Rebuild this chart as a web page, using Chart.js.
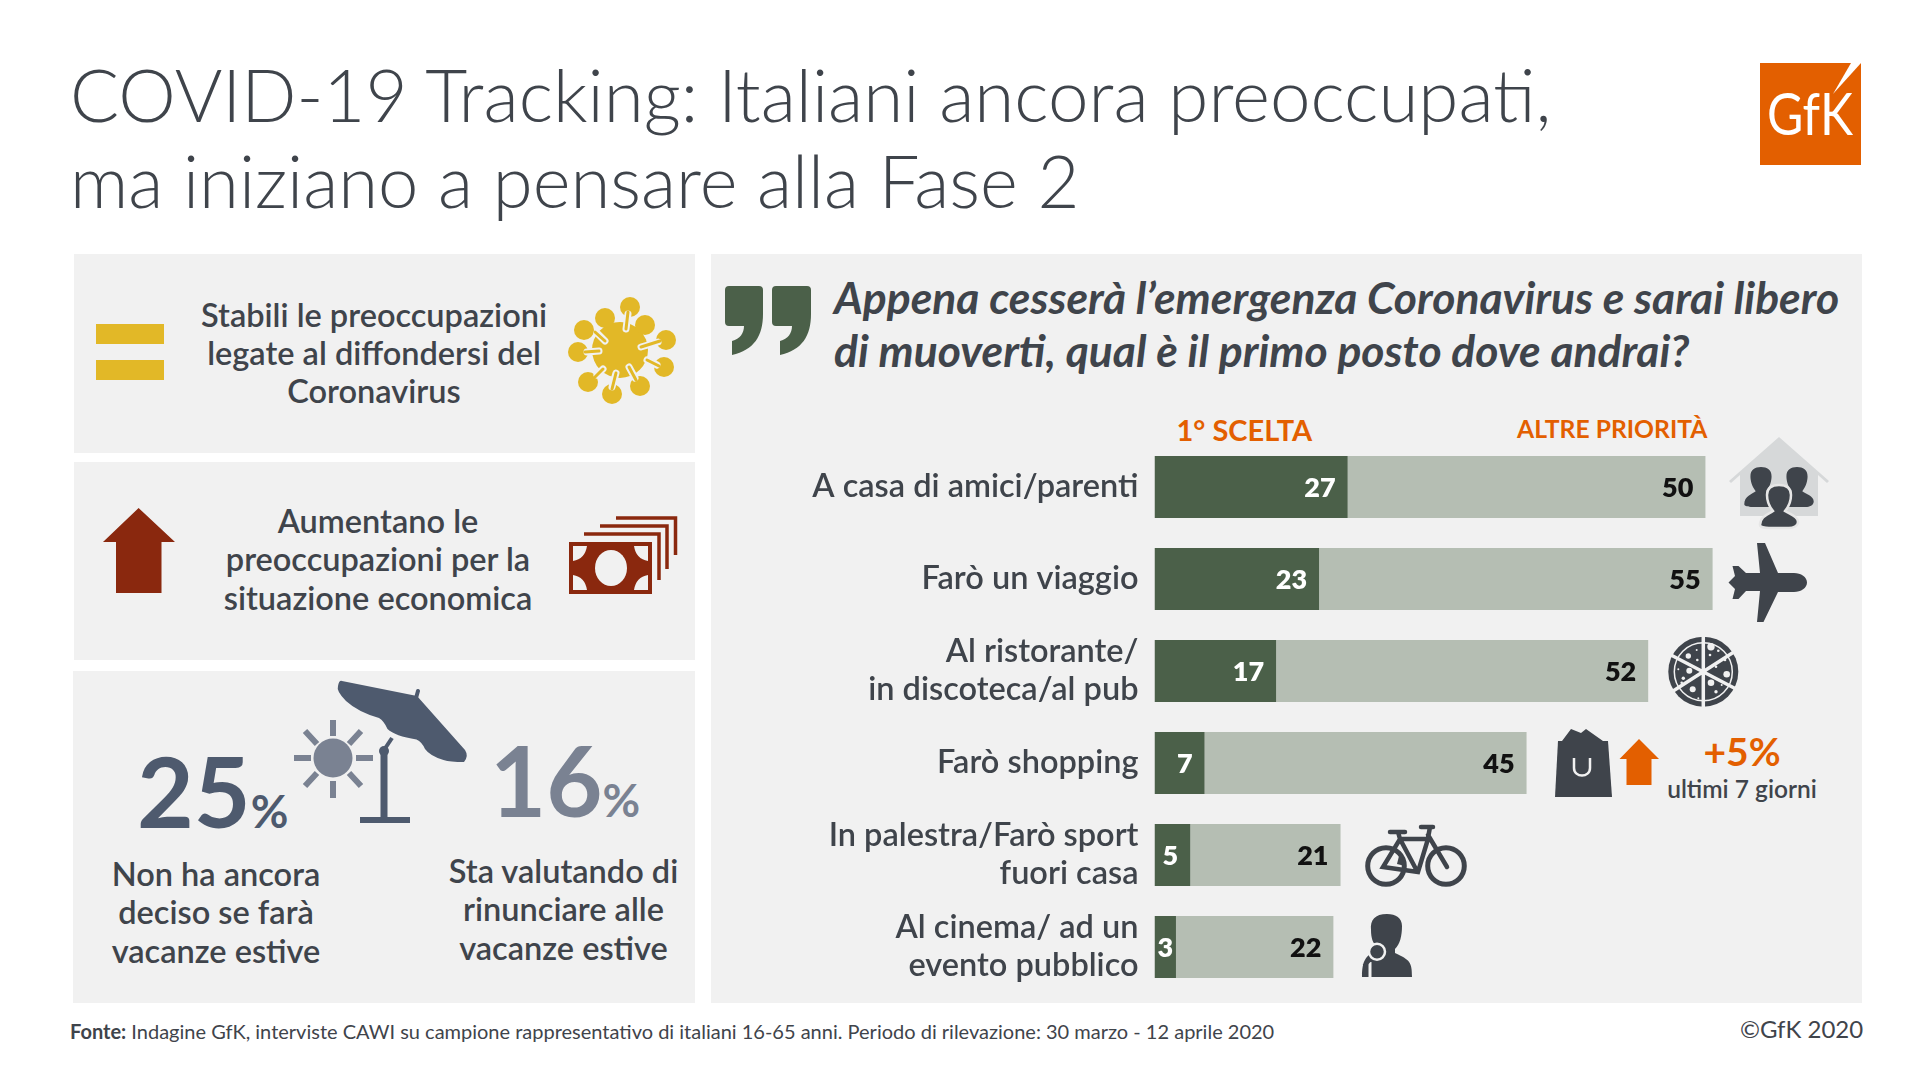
<!DOCTYPE html>
<html lang="it">
<head>
<meta charset="utf-8">
<title>COVID-19 Tracking</title>
<script src="https://cdn.jsdelivr.net/npm/chart.js@4/dist/chart.umd.min.js"></script>
<style>
  html, body { margin: 0; background: #fff; }
  #page { position: relative; width: 1920px; height: 1080px; overflow: hidden; font-family: Lato, sans-serif; color: #3f444b; }
  .panel { position: absolute; background: #f1f1f1; }
  .t { position: absolute; white-space: nowrap; line-height: 1; }
  .c { transform: translate(-50%, -50%); text-align: center; }
  .l { transform: translateY(-50%); }
  .body { font-size: 32.5px; font-weight: 600; line-height: 38.3px; }
  svg, canvas { position: absolute; left: 0; top: 0; }
</style>
</head>
<body>
<div id="page">
  <div class="panel" style="left:74px;top:254px;width:621px;height:199px"></div>
  <div class="panel" style="left:74px;top:462px;width:621px;height:198px"></div>
  <div class="panel" style="left:73px;top:671px;width:622px;height:332px"></div>
  <div class="panel" style="left:711px;top:254px;width:1151px;height:749px"></div>

  <div class="t l" style="left:70px;top:94px;font-size:72.7px;font-weight:300">COVID-19 Tracking: Italiani ancora preoccupati,</div>
  <div class="t l" style="left:70px;top:180px;font-size:72.4px;font-weight:300">ma iniziano a pensare alla Fase 2</div>

  <div class="t c body" style="left:374px;top:352.5px">Stabili le preoccupazioni<br>legate al diffondersi del<br>Coronavirus</div>
  <div class="t c body" style="left:378px;top:559px">Aumentano le<br>preoccupazioni per la<br>situazione economica</div>
  <div class="t c body" style="left:216px;top:912px">Non ha ancora<br>deciso se farà<br>vacanze estive</div>
  <div class="t c body" style="left:563.5px;top:909px">Sta valutando di<br>rinunciare alle<br>vacanze estive</div>

  <div class="t" style="left:137px;top:740.5px;font-size:98px;font-weight:700;color:#4e5a6e">25<span style="font-size:46px">%</span></div>
  <div class="t" style="left:490px;top:730.5px;font-size:97px;font-weight:700;color:#7a8292">16<span style="font-size:46px">%</span></div>

  <div class="t l" style="left:834px;top:296.5px;font-size:44.4px;font-weight:700;font-style:italic">Appena cesserà l’emergenza Coronavirus e sarai libero</div>
  <div class="t l" style="left:834px;top:349.5px;font-size:44.4px;font-weight:700;font-style:italic">di muoverti, qual è il primo posto dove andrai?</div>
  <div class="t l" style="left:1176.5px;top:428.5px;font-size:29px;font-weight:700;color:#e35f00">1° SCELTA</div>
  <div class="t l" style="left:1517px;top:428.5px;font-size:24.7px;font-weight:700;color:#e35f00">ALTRE PRIORITÀ</div>
  <div class="t c" style="left:1742px;top:750.5px;font-size:39px;font-weight:700;color:#e35f00">+5%</div>
  <div class="t c" style="left:1742px;top:789px;font-size:24.5px;font-weight:600">ultimi 7 giorni</div>

  <div class="t l" style="left:70px;top:1030.5px;font-size:20px"><b>Fonte:</b> Indagine GfK, interviste CAWI su campione rappresentativo di italiani 16-65 anni. Periodo di rilevazione: 30 marzo - 12 aprile 2020</div>
  <div class="t l" style="left:1740px;top:1029px;font-size:24px">©GfK 2020</div>

  <canvas id="placesChart" width="1161" height="552" style="left:709px;top:441px"></canvas>

  <svg width="1920" height="1080" viewBox="0 0 1920 1080">
    <defs>
      <path id="bust" d="M-19 40C-19 31-10 29-6 26C-11 20-12 14-12 10C-12 3-7 0 0 0C7 0 12 3 12 10C12 14 11 20 6 26C10 29 19 31 19 37C19 41 14 43 10 43H-10C-14 43-19 42-19 40z"/>
    </defs>

    <!-- logo -->
    <rect x="1760" y="63" width="101" height="102" fill="#e35f00"/>
    <path d="M1851 63h10l-28 31z" fill="#fff"/>
    <text x="1767" y="135" font-family="Lato" font-weight="400" font-size="58" fill="#fff" textLength="86" lengthAdjust="spacingAndGlyphs">GfK</text>

    <!-- uguale -->
    <rect x="96" y="324" width="68" height="20" fill="#e2b827"/>
    <rect x="96" y="360" width="68" height="20" fill="#e2b827"/>

    <!-- virus -->
    <g fill="#e2b827">
      <circle cx="620" cy="350" r="28"/>
      <circle cx="630" cy="307" r="10"/><circle cx="605" cy="318" r="10"/><circle cx="584" cy="330" r="10"/>
      <circle cx="578" cy="352" r="10"/><circle cx="588" cy="382" r="10"/><circle cx="612" cy="394" r="10"/>
      <circle cx="640" cy="386" r="10"/><circle cx="664" cy="367" r="10"/><circle cx="666" cy="340" r="10"/>
      <circle cx="645" cy="325" r="10"/>
    </g>
    <g stroke-linecap="round" fill="none">
      <path d="M628 314L626 329M597 333L605 341M587 352L599 351M597 375L603 369M612 387L616 373M635 378L629 367M657 365L647 360M658 342L641 347" stroke="#f1f1f1" stroke-width="7"/>
      <path d="M628 312L626 329M595 332L605 341M585 352L599 351M595 377L603 369M612 389L616 373M636 380L629 367M659 366L647 360M660 341L641 347" stroke="#e2b827" stroke-width="3"/>
    </g>

    <!-- freccia rossa e banconote -->
    <path d="M138.6 508L175 542H161.5V593H116V542H103z" fill="#8a280e"/>
    <g fill="none" stroke="#8a280e" stroke-width="3.5">
      <path d="M584 534H659V580M600 526H667V569M616 518H675.5V555"/>
    </g>
    <rect x="569" y="542" width="83" height="52" fill="#8a280e"/>
    <ellipse cx="611" cy="568" rx="16" ry="18" fill="#f1f1f1"/>
    <path d="M573 546h14q-2 13-14 15zM648 546h-14q2 13 14 15zM573 590h14q-2-13-14-15zM648 590h-14q2-13 14-15z" fill="#f1f1f1"/>

    <!-- ombrellone e sole -->
    <path d="M342 681L417 696L465 750Q469 756 464 762Q450 762 443.5 760Q430 756 425 749Q422 742 416.5 739.5Q395 736 387.5 729Q384 721 379 718Q358 712 346 701Q336 691 338 686Q339 680 342 681z" fill="#4e5a6e"/>
    <path d="M416 698L418 691" stroke="#4e5a6e" stroke-width="4" stroke-linecap="round"/>
    <path d="M384 750L392 738" stroke="#4e5a6e" stroke-width="4"/>
    <circle cx="384" cy="751" r="5" fill="#4e5a6e"/>
    <rect x="380.5" y="751" width="7" height="68" fill="#4e5a6e"/>
    <rect x="360" y="817" width="50" height="6" fill="#4e5a6e"/>
    <circle cx="333" cy="758" r="19.5" fill="#7a8292"/>
    <path d="M333 720V736M333 781V798M294 758H311M356 758H373M305 731L317 744M361 731L349 744M305 786L317 773M361 786L349 773" stroke="#7a8292" stroke-width="6"/>

    <!-- virgolette -->
    <g fill="#4b6049">
      <path d="M729 286H759Q763 286 763 290V314C763 336 754 350 732 355V341C740 339 744 333 744 326H729Q725 326 725 322V290Q725 286 729 286z"/>
      <path d="M776 286H807Q811 286 811 290V314C811 336 802 350 780 355V341C788 339 792 333 792 326H776Q772 326 772 322V290Q772 286 776 286z"/>
    </g>

    <!-- casa -->
    <path d="M1779 437L1829 481L1827 483L1818 475V516H1740V475L1731 483L1729 481z" fill="#d6d8d9"/>
    <g fill="#3f444b">
      <use href="#bust" transform="translate(1761 467) scale(0.88 0.93)"/>
      <use href="#bust" transform="translate(1797 467) scale(0.88 0.93)"/>
      <use href="#bust" transform="translate(1779 485)" stroke="#e6e6e6" stroke-width="2.5"/>
    </g>

    <!-- aereo -->
    <path d="M1807 582.5C1807 577 1801 573 1794 573H1778L1765 543H1757L1760 573H1746L1738.5 566H1732.5L1735 576L1728.5 582.5L1735 589L1732.5 599H1738.5L1746 591H1760L1757 622H1763.5L1778 592H1794C1801 592 1807 588 1807 582.5z" fill="#3f444b"/>

    <!-- pizza -->
    <circle cx="1703.3" cy="671.7" r="35" fill="#3f444b"/>
    <circle cx="1703.3" cy="671.7" r="29" fill="none" stroke="#f1f1f1" stroke-width="1.5"/>
    <g fill="#f1f1f1">
      <circle cx="1711" cy="646.7" r="3.7"/><circle cx="1688.3" cy="656" r="2.7"/><circle cx="1689.3" cy="670.7" r="3"/>
      <circle cx="1711" cy="682.7" r="3.3"/><circle cx="1726.7" cy="674.3" r="3.3"/><circle cx="1692.7" cy="689.3" r="3"/>
      <circle cx="1716" cy="691.7" r="1.7"/><circle cx="1683.3" cy="678.3" r="1.7"/><circle cx="1696.7" cy="650" r="1"/>
      <circle cx="1697.3" cy="660" r="1.3"/><circle cx="1718.3" cy="650.7" r="1.3"/><circle cx="1710" cy="655" r="1.3"/>
      <circle cx="1725" cy="660" r="1.3"/><circle cx="1716" cy="666.7" r="1.3"/><circle cx="1698.3" cy="698.3" r="1"/>
      <circle cx="1678.3" cy="669.3" r="1"/><circle cx="1721.7" cy="685" r="1"/><circle cx="1681.7" cy="682.7" r="1.3"/>
    </g>
    <path d="M1703.3 633V710M1670 654.5L1737 689.5M1737 650L1670 693" stroke="#f1f1f1" stroke-width="3.5"/>

    <!-- borsa e freccia -->
    <path d="M1562 741L1571 729L1581 733L1586 729L1603 741z" fill="#3f444b"/>
    <path d="M1558 741H1608L1612 797H1555z" fill="#3f444b"/>
    <path d="M1574 758V768C1574 778 1590 778 1590 768V758" fill="none" stroke="#f1f1f1" stroke-width="2.5"/>
    <path d="M1639 739L1659 759H1651.5V785H1626.5V759H1619.5z" fill="#e35f00"/>

    <!-- bici -->
    <g fill="none" stroke="#3f444b">
      <circle cx="1386" cy="866" r="18.3" stroke-width="5"/><circle cx="1446" cy="866" r="18.3" stroke-width="5"/>
      <path d="M1400 839H1428L1418 872L1383 867L1400 839L1417 871M1428 835L1447 867M1390 832H1405M1398 832L1400 839M1421 827H1433M1430 827L1428 838" stroke-width="4.5" stroke-linecap="round"/>
    </g>
    <path d="M1400 852L1397 864L1405 866z" fill="#3f444b"/>

    <!-- persona con microfono -->
    <path d="M1387 914C1375 914 1370 920 1371 930C1371 938 1373 943 1376 946V950C1366 956 1362 960 1362 977H1412C1412 962 1410 960 1395 953V949C1400 944 1402 936 1402 926C1402 918 1396 914 1387 914z" fill="#3f444b"/>
    <path d="M1370 962V978" stroke="#f1f1f1" stroke-width="3"/>
    <path d="M1372 958L1364 966" stroke="#3f444b" stroke-width="3.5"/>
    <circle cx="1377" cy="951.7" r="8" fill="#3f444b" stroke="#f1f1f1" stroke-width="2.5"/>
  </svg>
</div>

<script>
const placeLabels = [
  'A casa di amici/parenti',
  'Farò un viaggio',
  ['Al ristorante/', 'in discoteca/al pub'],
  'Farò shopping',
  ['In palestra/Farò sport', 'fuori casa'],
  ['Al cinema/ ad un', 'evento pubblico']
];
const firstChoice = [27, 23, 17, 7, 5, 3];
const otherPriorities = [50, 55, 52, 45, 21, 22];

// numbers drawn inside the bars, right aligned
const barValues = {
  id: 'barValues',
  afterDatasetsDraw(chart) {
    const ctx = chart.ctx;
    ctx.save();
    ctx.font = '800 27px Lato';
    ctx.textAlign = 'right';
    ctx.textBaseline = 'middle';
    chart.data.datasets.forEach((dataset, d) => {
      ctx.fillStyle = d === 0 ? '#ffffff' : '#111111';
      chart.getDatasetMeta(d).data.forEach((bar, i) => {
        const text = String(dataset.data[i]);
        const minRight = bar.base + ctx.measureText(text).width + 3;
        ctx.fillText(text, Math.max(bar.x - 12, minRight), bar.y + 1);
      });
    });
    ctx.restore();
  }
};

new Chart(document.getElementById('placesChart'), {
  type: 'bar',
  data: {
    labels: placeLabels,
    datasets: [
      { label: '1° SCELTA', data: firstChoice, backgroundColor: '#4b6049' },
      { label: 'ALTRE PRIORITÀ', data: otherPriorities, backgroundColor: '#b5beb3' }
    ]
  },
  options: {
    indexAxis: 'y',
    responsive: false,
    animation: false,
    categoryPercentage: 1,
    barPercentage: 0.674,
    layout: { padding: 0 },
    plugins: { legend: { display: false }, tooltip: { enabled: false } },
    scales: {
      x: { stacked: true, min: 0, max: 100, display: false },
      y: {
        stacked: true,
        grid: { display: false },
        border: { display: false },
        afterFit: scale => {
          scale.width = 445.5;
          scale.paddingTop = 0;
          scale.paddingBottom = 0;
        },
        ticks: {
          autoSkip: false,
          padding: 8,
          color: '#3f444b',
          font: { family: 'Lato', size: 32.5, weight: '600', lineHeight: 1.17 }
        }
      }
    }
  },
  plugins: [barValues]
});
</script>
</body>
</html>
